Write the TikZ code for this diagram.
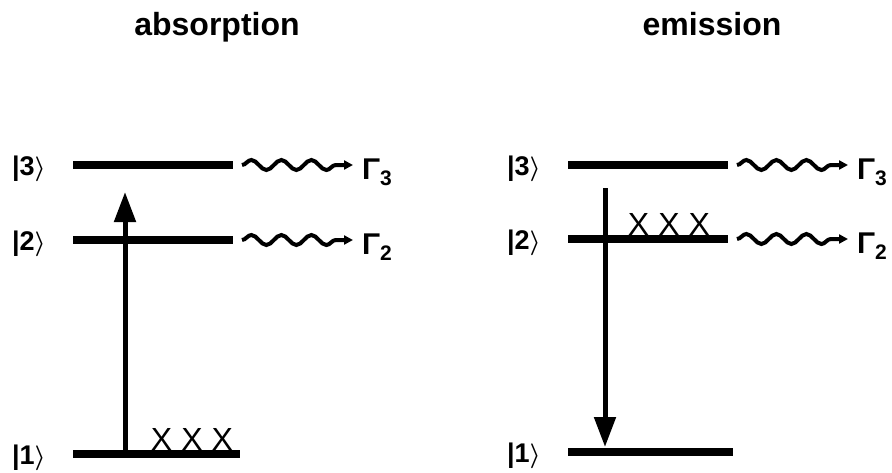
\documentclass[tikz,border=0pt]{standalone}
\usepackage{fontspec}
\setmainfont{Liberation Sans}
\usepackage{tikz}
\usetikzlibrary{calc, positioning}
\usetikzlibrary{arrows.meta}
\usetikzlibrary{decorations.pathmorphing}
\newcommand{\Ket}[1]{|#1{\boldmath$\rangle$}}

\begin{document}
\begin{tikzpicture}[x=1pt, y=-1pt, every node/.style={inner sep=0pt},
    level/.style={line width=8pt},
    trans/.style={line width=5pt, -{Triangle[length=30pt, width=21pt]}},
    photon/.style={line width=4pt, -{Triangle[length=9pt, width=9pt]},
        decorate, decoration={snake, segment length=30pt, amplitude=5pt, post length=9pt}},
    ket/.style={font=\fontsize{27}{32}\selectfont\bfseries},
    gam/.style={font=\fontsize{30}{34}\selectfont\bfseries, inner xsep=9pt},
    xxx/.style={font=\fontsize{32}{36}\selectfont},
    title/.style={font=\fontsize{32}{38}\selectfont\bfseries}]
    \def\offKet{27}
    \useasboundingbox (0,0) rectangle (892,472);

    % 1: id
    % 2: x west
    % 3: x east
    % 4: y
    % 5: label
    \newcommand{\Level}[5]{
        \coordinate (#1/w) at (#2,#4);
        \coordinate (#1/e) at (#3,#4);
        \draw [level] (#1/w) -- (#1/e);
        \node [ket, anchor=east] (#1/label) at ($(#1/w)+(-\offKet,4)$) {#5};
    }

    % 1: id, 2: level id, 3: gamma label
    \newcommand{\Decay}[3]{
        \node [gam, anchor=base west] (#1) at ($(#2/e)+(120,14)$) {#3};
        \draw [photon] ($(#2/e)+(9,0)$) -- (#1.west |- #2/e);
    }

    % absorption
    \node [title, anchor=base] (abs) at (217,35) {absorption};
    \Level{a3}{73}{233}{165}{\Ket{3}};
    \Level{a2}{73}{233}{240}{\Ket{2}};
    \Level{a1}{73}{240}{454}{\Ket{1}};
    \Decay{ga3}{a3}{Γ\textsubscript{3}};
    \Decay{ga2}{a2}{Γ\textsubscript{2}};
    \coordinate (up/end) at (125,192);
    \draw [trans] (a1/w -| up/end) -- (up/end);
    \node [xxx, anchor=base] (xa) at (192,450) {X\hspace{9pt}X\hspace{9pt}X};

    % emission
    \node [title, anchor=base] (emi) at (712,35) {emission};
    \Level{e3}{568}{728}{165}{\Ket{3}};
    \Level{e2}{568}{728}{239}{\Ket{2}};
    \Level{e1}{568}{733}{452}{\Ket{1}};
    \Decay{ge3}{e3}{Γ\textsubscript{3}};
    \Decay{ge2}{e2}{Γ\textsubscript{2}};
    \coordinate (down/start) at (605,188);
    \coordinate (down/end) at (605,447);
    \draw [trans] (down/start) -- (down/end);
    \node [xxx, anchor=base] (xe) at (669,235) {X\hspace{9pt}X\hspace{9pt}X};

\end{tikzpicture}
\end{document}
